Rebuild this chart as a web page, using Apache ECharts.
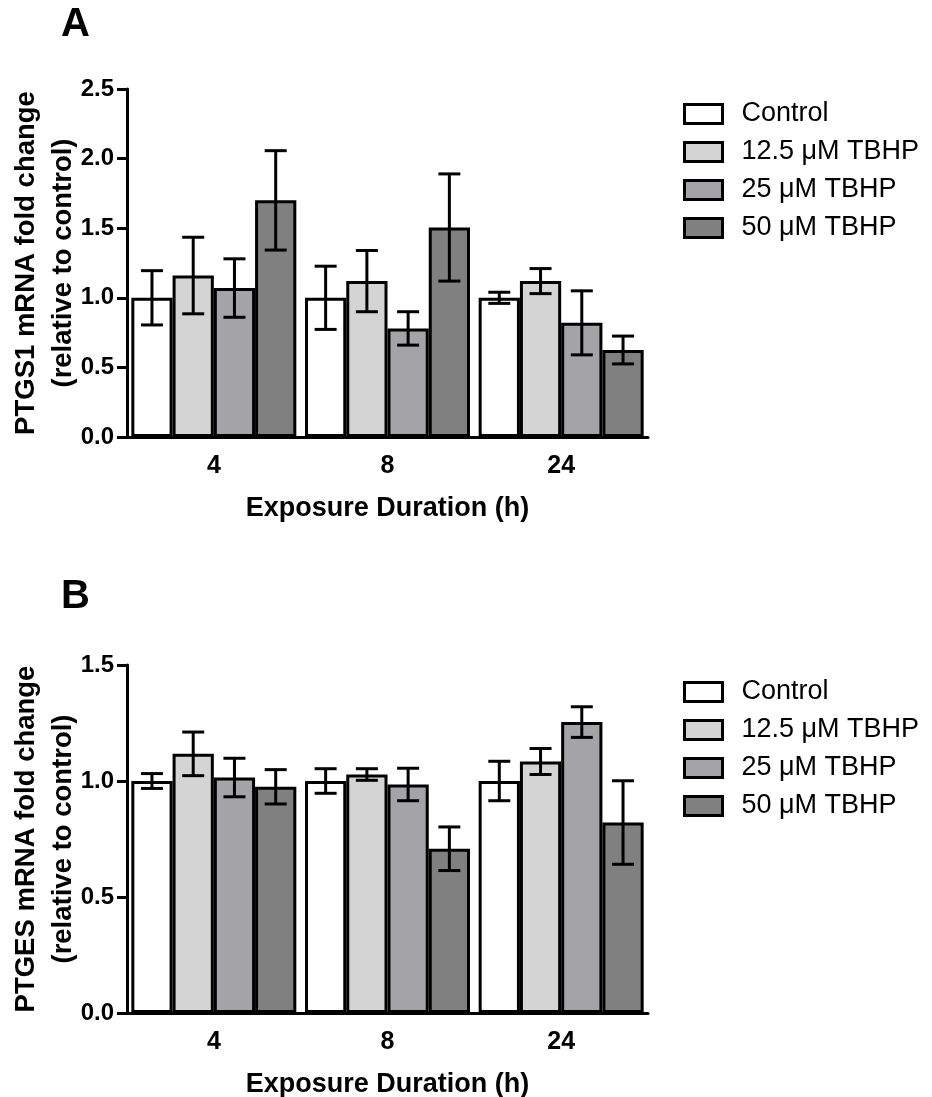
<!DOCTYPE html>
<html>
<head>
<meta charset="utf-8">
<script src="https://cdn.jsdelivr.net/npm/echarts@6/dist/echarts.min.js"></script>
<style>
  html, body { margin: 0; padding: 0; background: #ffffff; }
  #chart { width: 932px; height: 1097px; }
</style>
</head>
<body>
<div id="chart"></div>
<script>
// Exposure durations (h) and treatment groups
const durations = ['4', '8', '24'];
const groupNames = ['Control', '12.5 μM TBHP', '25 μM TBHP', '50 μM TBHP'];

// Panel A: PTGS1 mRNA fold change (mean, SEM)
const ptgs1Control = [1.00, 1.00, 1.00];
const ptgs1Control_err = [0.195, 0.227, 0.04];
const ptgs1T125 = [1.16, 1.12, 1.12];
const ptgs1T125_err = [0.275, 0.22, 0.09];
const ptgs1T25 = [1.07, 0.78, 0.82];
const ptgs1T25_err = [0.21, 0.12, 0.23];
const ptgs1T50 = [1.70, 1.505, 0.625];
const ptgs1T50_err = [0.357, 0.385, 0.10];

// Panel B: PTGES mRNA fold change (mean, SEM)
const ptgesControl = [1.00, 1.00, 1.00];
const ptgesControl_err = [0.032, 0.053, 0.085];
const ptgesT125 = [1.117, 1.028, 1.084];
const ptgesT125_err = [0.094, 0.025, 0.056];
const ptgesT25 = [1.015, 0.985, 1.254];
const ptgesT25_err = [0.083, 0.07, 0.066];
const ptgesT50 = [0.975, 0.708, 0.821];
const ptgesT50_err = [0.074, 0.094, 0.18];

// Axis ranges
const ptgs1AxisMax = 2.5;
const ptgesAxisMax = 1.5;
const axisStep = 0.5;

const fillColors = ['#ffffff', '#d4d4d4', '#a3a3a8', '#808080'];
const FONT = 'Arial, "Liberation Sans", Helvetica, sans-serif';
const CAT_GAP = 0.05;

const panelMeans = [
  [ptgs1Control, ptgs1T125, ptgs1T25, ptgs1T50],
  [ptgesControl, ptgesT125, ptgesT25, ptgesT50]
];
const panelErrs = [
  [ptgs1Control_err, ptgs1T125_err, ptgs1T25_err, ptgs1T50_err],
  [ptgesControl_err, ptgesT125_err, ptgesT25_err, ptgesT50_err]
];

const chart = echarts.init(document.getElementById('chart'), null, { renderer: 'canvas' });

// Error bar: vertical stem with caps, centred on each bar of the group
function errorBarRender(params, api) {
  const ci = api.value(0);
  const lo = api.value(1);
  const hi = api.value(2);
  const si = api.value(3);
  const band = api.size([1, 0])[0];
  const bw = band * (1 - CAT_GAP) / groupNames.length;
  const cx = api.coord([ci, 0])[0] + (si - (groupNames.length - 1) / 2) * bw;
  const yLo = api.coord([ci, lo])[1];
  const yHi = api.coord([ci, hi])[1];
  const half = 11;
  const style = { stroke: '#000', lineWidth: 3, fill: null };
  return {
    type: 'group',
    children: [
      { type: 'line', shape: { x1: cx, y1: yLo, x2: cx, y2: yHi }, style },
      { type: 'line', shape: { x1: cx - half, y1: yHi, x2: cx + half, y2: yHi }, style },
      { type: 'line', shape: { x1: cx - half, y1: yLo, x2: cx + half, y2: yLo }, style }
    ]
  };
}

const grids = [
  { left: 127, top: 89, width: 521, height: 348, outerBoundsMode: 'none', containLabel: false },
  { left: 127, top: 665, width: 521, height: 348, outerBoundsMode: 'none', containLabel: false }
];
const yNames = ['PTGS1 mRNA fold change\n(relative to control)', 'PTGES mRNA fold change\n(relative to control)'];
const yMax = [ptgs1AxisMax, ptgesAxisMax];

const xAxes = grids.map((g, i) => ({
  type: 'category',
  gridIndex: i,
  data: durations,
  axisLine: { lineStyle: { color: '#000', width: 3 } },
  axisTick: { alignWithLabel: true, length: 12, lineStyle: { color: '#000', width: 3 } },
  axisLabel: { color: '#000', fontFamily: FONT, fontWeight: 'bold', fontSize: 25, margin: 17 },
  name: 'Exposure Duration (h)',
  nameLocation: 'middle',
  nameGap: 58,
  nameMoveOverlap: false,
  nameTextStyle: { color: '#000', fontFamily: FONT, fontWeight: 'bold', fontSize: 27 }
}));

const yAxes = grids.map((g, i) => ({
  type: 'value',
  gridIndex: i,
  min: 0,
  max: yMax[i],
  interval: axisStep,
  splitLine: { show: false },
  axisLine: { show: true, lineStyle: { color: '#000', width: 3 } },
  axisTick: { show: true, length: 10, lineStyle: { color: '#000', width: 3 } },
  axisLabel: { color: '#000', fontFamily: FONT, fontWeight: 'bold', fontSize: 24, margin: 13,
    formatter: v => v.toFixed(1) },
  name: yNames[i],
  nameLocation: 'middle',
  nameRotate: 90,
  nameGap: 45,
  nameMoveOverlap: false,
  nameTextStyle: { color: '#000', fontFamily: FONT, fontWeight: 'bold', fontSize: 27.5, lineHeight: 37 }
}));

const series = [];
for (let p = 0; p < 2; p++) {
  groupNames.forEach((name, si) => {
    series.push({
      type: 'bar',
      name: name,
      xAxisIndex: p,
      yAxisIndex: p,
      data: panelMeans[p][si],
      barGap: '0%',
      barCategoryGap: (CAT_GAP * 100) + '%',
      itemStyle: { color: fillColors[si], borderColor: '#000', borderWidth: 3 },
      emphasis: { disabled: true }
    });
  });
  const errData = [];
  groupNames.forEach((name, si) => {
    panelMeans[p][si].forEach((m, ci) => {
      const e = panelErrs[p][si][ci];
      errData.push([ci, m - e, m + e, si]);
    });
  });
  series.push({
    type: 'custom',
    name: 'sem' + p,
    xAxisIndex: p,
    yAxisIndex: p,
    data: errData,
    renderItem: errorBarRender,
    encode: { x: 0, y: [1, 2] },
    z: 10,
    silent: true
  });
}

const legendTops = [99, 677];
const legends = legendTops.map(t => ({
  data: groupNames,
  orient: 'vertical',
  left: 683,
  top: t,
  padding: 0,
  itemWidth: 38,
  itemHeight: 19,
  itemGap: 8,
  icon: 'rect',
  itemStyle: { borderColor: '#000', borderWidth: 3 },
  textStyle: { color: '#000', fontFamily: FONT, fontSize: 27, lineHeight: 30, padding: [0, 0, 0, 14] },
  selectedMode: false
}));

chart.setOption({
  animation: false,
  backgroundColor: '#ffffff',
  title: [
    { text: 'A', left: 61, top: 5, padding: 0,
      textStyle: { color: '#000', fontFamily: FONT, fontWeight: 'bold', fontSize: 40 } },
    { text: 'B', left: 61, top: 577, padding: 0,
      textStyle: { color: '#000', fontFamily: FONT, fontWeight: 'bold', fontSize: 40 } }
  ],
  legend: legends,
  grid: grids,
  xAxis: xAxes,
  yAxis: yAxes,
  series: series
});
</script>
</body>
</html>
